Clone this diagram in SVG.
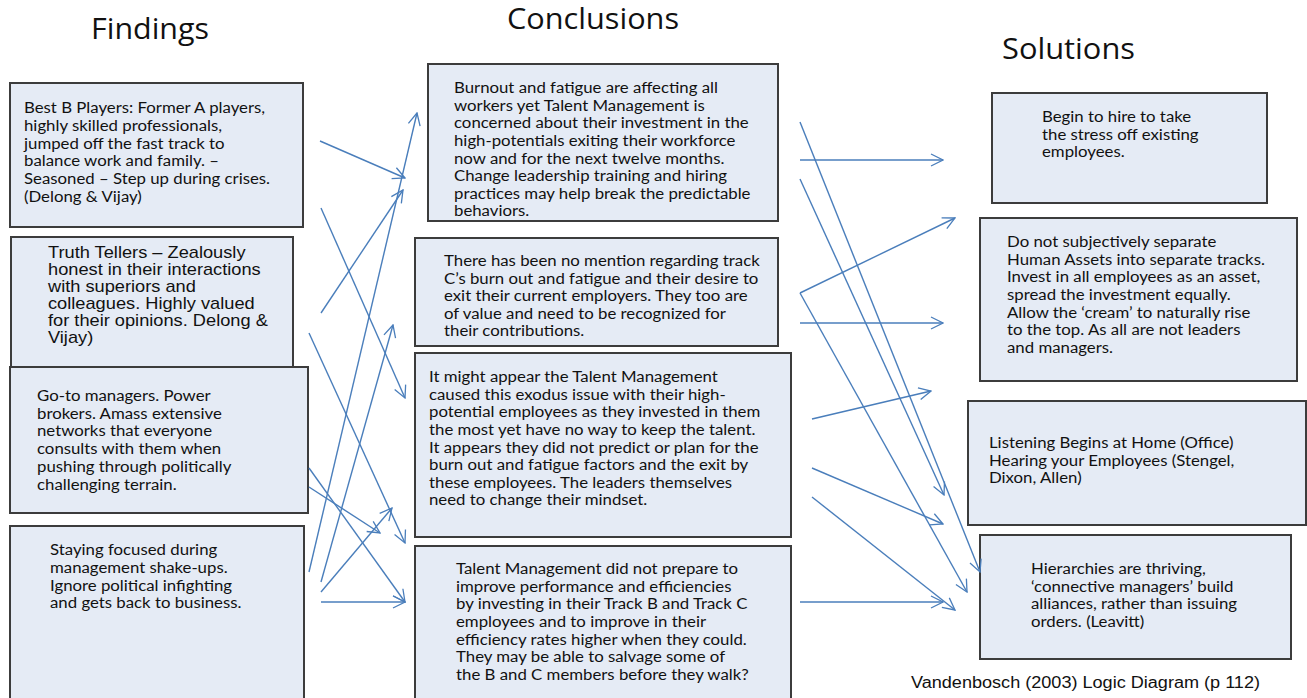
<svg xmlns="http://www.w3.org/2000/svg" width="1307" height="698" viewBox="0 0 1307 698">
<defs>
<marker id="ah" viewBox="0 0 14 14" refX="13" refY="7" markerWidth="14" markerHeight="14" markerUnits="userSpaceOnUse" orient="auto">
<path d="M1,1 L13,7 L1,13" fill="none" stroke="#4a7ebb" stroke-width="1.3"/>
</marker>
<style>
.box{fill:#e5ebf5;stroke:#3c3c3c;stroke-width:2}
.t{font-family:Lato,"Open Sans",sans-serif;font-size:15px;fill:#111}
.a{font-family:"Liberation Sans",Arial,sans-serif;font-size:16px;fill:#111}
.h{font-family:"Open Sans",Lato,sans-serif;font-size:29px;fill:#111}
.c line{stroke:#4a7ebb;stroke-width:1.4;fill:none}
.c line.m{marker-end:url(#ah)}
</style>
</defs>
<rect width="1307" height="698" fill="#fff"/>
<g id="titles">
<text class="h" x="91" y="39" textLength="118" lengthAdjust="spacingAndGlyphs">Findings</text>
<text class="h" x="507" y="29" textLength="172" lengthAdjust="spacingAndGlyphs">Conclusions</text>
<text class="h" x="1002" y="59" textLength="133" lengthAdjust="spacingAndGlyphs">Solutions</text>
</g>
<g id="f1">
<rect class="box" x="10" y="83" width="293" height="144"/>
<text class="t" transform="translate(24,0) scale(1.12,1)"><tspan x="0" y="113">Best B Players: Former A players,</tspan><tspan x="0" y="131">highly skilled professionals,</tspan><tspan x="0" y="149">jumped off the fast track to</tspan><tspan x="0" y="166">balance work and family. –</tspan><tspan x="0" y="184">Seasoned – Step up during crises.</tspan><tspan x="0" y="202">(Delong &amp; Vijay)</tspan></text>
</g>
<g id="f2">
<rect class="box" x="11" y="237" width="282" height="132"/>
<text class="a" transform="translate(48,0) scale(1.14,1)"><tspan x="0" y="258">Truth Tellers – Zealously</tspan><tspan x="0" y="275">honest in their interactions</tspan><tspan x="0" y="292">with superiors and</tspan><tspan x="0" y="309">colleagues. Highly valued</tspan><tspan x="0" y="326">for their opinions. Delong &amp;</tspan><tspan x="0" y="343">Vijay)</tspan></text>
</g>
<g id="f3">
<rect class="box" x="10" y="367" width="298" height="146"/>
<text class="t" transform="translate(37,0) scale(1.12,1)"><tspan x="0" y="401">Go-to managers. Power</tspan><tspan x="0" y="419">brokers. Amass extensive</tspan><tspan x="0" y="436">networks that everyone</tspan><tspan x="0" y="454">consults with them when</tspan><tspan x="0" y="472">pushing through politically</tspan><tspan x="0" y="490">challenging terrain.</tspan></text>
</g>
<g id="f4">
<rect class="box" x="10" y="526" width="294" height="180"/>
<text class="t" transform="translate(50,0) scale(1.12,1)"><tspan x="0" y="555">Staying focused during</tspan><tspan x="0" y="573">management shake-ups.</tspan><tspan x="0" y="591">Ignore political infighting</tspan><tspan x="0" y="608">and gets back to business.</tspan></text>
</g>
<g id="c1">
<rect class="box" x="428" y="64" width="350" height="157"/>
<text class="t" transform="translate(454,0) scale(1.12,1)"><tspan x="0" y="93">Burnout and fatigue are affecting all</tspan><tspan x="0" y="111">workers yet Talent Management is</tspan><tspan x="0" y="128">concerned about their investment in the</tspan><tspan x="0" y="146">high-potentials exiting their workforce</tspan><tspan x="0" y="164">now and for the next twelve months.</tspan><tspan x="0" y="181">Change leadership training and hiring</tspan><tspan x="0" y="199">practices may help break the predictable</tspan><tspan x="0" y="216">behaviors.</tspan></text>
</g>
<g id="c2">
<rect class="box" x="415" y="238" width="363" height="108"/>
<text class="t" transform="translate(444,0) scale(1.12,1)"><tspan x="0" y="266">There has been no mention regarding track</tspan><tspan x="0" y="284">C’s burn out and fatigue and their desire to</tspan><tspan x="0" y="301">exit their current employers. They too are</tspan><tspan x="0" y="319">of value and need to be recognized for</tspan><tspan x="0" y="336">their contributions.</tspan></text>
</g>
<g id="c3">
<rect class="box" x="415" y="353" width="376" height="184"/>
<text class="t" transform="translate(429,0) scale(1.12,1)"><tspan x="0" y="382">It might appear the Talent Management</tspan><tspan x="0" y="400">caused this exodus issue with their high-</tspan><tspan x="0" y="417">potential employees as they invested in them</tspan><tspan x="0" y="435">the most yet have no way to keep the talent.</tspan><tspan x="0" y="453">It appears they did not predict or plan for the</tspan><tspan x="0" y="470">burn out and fatigue factors and the exit by</tspan><tspan x="0" y="488">these employees.  The leaders themselves</tspan><tspan x="0" y="505">need to change their mindset.</tspan></text>
</g>
<g id="c4">
<rect class="box" x="415" y="546" width="376" height="160"/>
<text class="t" transform="translate(456,0) scale(1.12,1)"><tspan x="0" y="574">Talent Management did not prepare to</tspan><tspan x="0" y="592">improve performance and efficiencies</tspan><tspan x="0" y="609">by investing in their Track B and Track C</tspan><tspan x="0" y="627">employees and to improve in their</tspan><tspan x="0" y="645">efficiency rates higher when they could.</tspan><tspan x="0" y="662">They may be able to salvage some of</tspan><tspan x="0" y="680">the B and C members before they walk?</tspan></text>
</g>
<g id="s1">
<rect class="box" x="992" y="93" width="275" height="110"/>
<text class="t" transform="translate(1042,0) scale(1.12,1)"><tspan x="0" y="122">Begin to hire to take</tspan><tspan x="0" y="140">the stress off existing</tspan><tspan x="0" y="157">employees.</tspan></text>
</g>
<g id="s2">
<rect class="box" x="980" y="218" width="317" height="163"/>
<text class="t" transform="translate(1007,0) scale(1.12,1)"><tspan x="0" y="247">Do not subjectively separate</tspan><tspan x="0" y="265">Human Assets into separate tracks.</tspan><tspan x="0" y="282">Invest in all employees as an asset,</tspan><tspan x="0" y="300">spread the investment equally.</tspan><tspan x="0" y="318">Allow the ‘cream’ to naturally rise</tspan><tspan x="0" y="335">to the top. As all are not leaders</tspan><tspan x="0" y="353">and managers.</tspan></text>
</g>
<g id="s3">
<rect class="box" x="968" y="401" width="338" height="124"/>
<text class="t" transform="translate(989,0) scale(1.12,1)"><tspan x="0" y="448">Listening Begins at Home (Office)</tspan><tspan x="0" y="466">Hearing your Employees (Stengel,</tspan><tspan x="0" y="483">Dixon, Allen)</tspan></text>
</g>
<g id="s4">
<rect class="box" x="980" y="535" width="311" height="124"/>
<text class="t" transform="translate(1031,0) scale(1.12,1)"><tspan x="0" y="574">Hierarchies are thriving,</tspan><tspan x="0" y="592">‘connective managers’ build</tspan><tspan x="0" y="609">alliances, rather than issuing</tspan><tspan x="0" y="627">orders. (Leavitt)</tspan></text>
</g>
<text class="a" x="911" y="688" textLength="349" lengthAdjust="spacingAndGlyphs">Vandenbosch (2003) Logic Diagram (p 112)</text>
<g id="connectors" class="c">
<line class="m" x1="320" y1="141" x2="405" y2="178"/>
<line class="m" x1="309" y1="572" x2="417" y2="113"/>
<line class="m" x1="321" y1="313" x2="403" y2="190"/>
<line class="m" x1="321" y1="208" x2="405" y2="398"/>
<line class="m" x1="309" y1="333" x2="405" y2="543"/>
<line class="m" x1="321" y1="582" x2="393" y2="325"/>
<line class="m" x1="309" y1="468" x2="405" y2="602"/>
<line class="m" x1="309" y1="487" x2="380" y2="533"/>
<line class="m" x1="321" y1="592" x2="392" y2="508"/>
<line class="m" x1="321" y1="602" x2="405" y2="602"/>
<line class="m" x1="800" y1="160" x2="943" y2="160"/>
<line class="m" x1="800" y1="122" x2="980" y2="572"/>
<line class="m" x1="800" y1="179" x2="944" y2="495"/>
<line class="m" x1="800" y1="293" x2="955" y2="218"/>
<line class="m" x1="800" y1="293" x2="967" y2="592"/>
<line class="m" x1="800" y1="323" x2="943" y2="323"/>
<line class="m" x1="812" y1="419" x2="931" y2="391"/>
<line class="m" x1="812" y1="468" x2="943" y2="524"/>
<line class="m" x1="812" y1="497" x2="955" y2="610"/>
<line class="m" x1="800" y1="602" x2="943" y2="602"/>
</g>
</svg>
